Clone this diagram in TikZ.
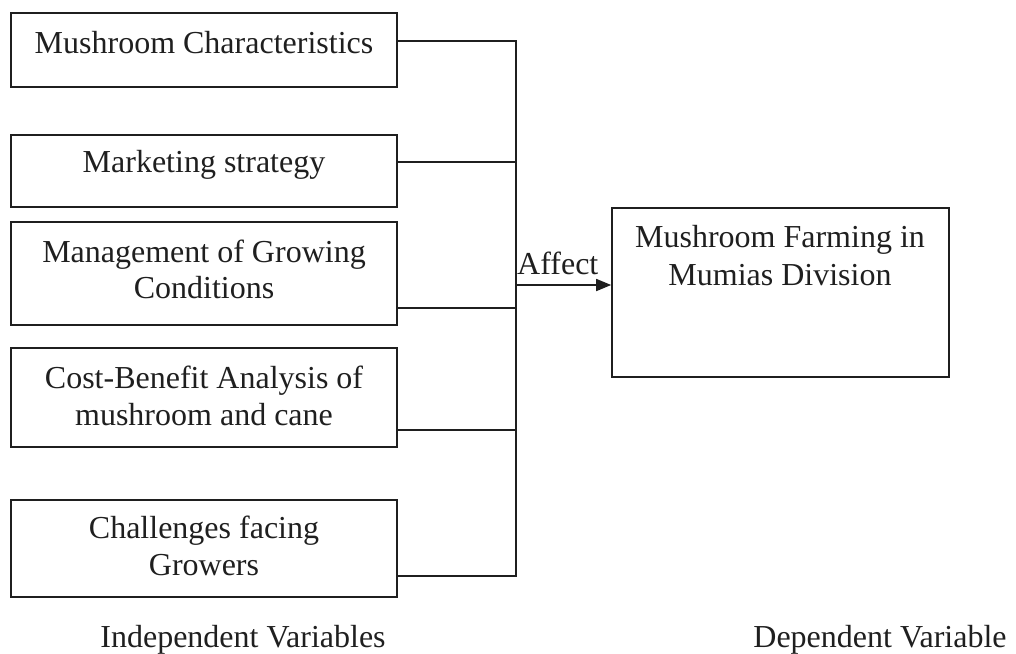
\documentclass[tikz,border=0pt]{standalone}
\usepackage{fontspec}
\setmainfont{Liberation Serif}
\usetikzlibrary{arrows.meta}
\begin{document}
\begin{tikzpicture}[x=1pt,y=-1pt,
  box/.style={draw=black!88,line width=1.6pt,rectangle,inner sep=0pt},
  txt/.style={anchor=base,inner sep=0pt,text=black!88,font=\fontsize{32}{36}\selectfont},
  conn/.style={draw=black!88,line width=1.6pt},
  arr/.style={conn,-{Triangle[length=15pt,width=12pt]}}]
\useasboundingbox (0,0) rectangle (1016,653);
% boxes
\node[box,minimum width=386pt,minimum height=74pt]  (b1) at (204,50) {};
\node[box,minimum width=386pt,minimum height=72pt]  (b2) at (204,171) {};
\node[box,minimum width=386pt,minimum height=103pt] (b3) at (204,273.5) {};
\node[box,minimum width=386pt,minimum height=99pt]  (b4) at (204,397.5) {};
\node[box,minimum width=386pt,minimum height=97pt]  (b5) at (204,548.5) {};
\node[box,minimum width=337pt,minimum height=169pt] (dep) at (780.5,292.5) {};
% texts
\node[txt] (t1)  at (204,53)  {Mushroom Characteristics};
\node[txt] (t2)  at (204,172) {Marketing strategy};
\node[txt] (t3a) at (204,262) {Management of Growing};
\node[txt] (t3b) at (204,298) {Conditions};
\node[txt] (t4a) at (204,388) {Cost-Benefit Analysis of};
\node[txt] (t4b) at (204,425) {mushroom and cane};
\node[txt] (t5a) at (204,538) {Challenges facing};
\node[txt] (t5b) at (204,575) {Growers};
\node[txt] (d1)  at (780,247) {Mushroom Farming in};
\node[txt] (d2)  at (780,285) {Mumias Division};
\node[txt,anchor=base west] (aff) at (517,274) {Affect};
\node[txt] (iv) at (243,647) {Independent Variables};
\node[txt] (dv) at (880,647) {Dependent Variable};
% bus junctions
\coordinate (j1) at (516,41);
\coordinate (j2) at (516,162);
\coordinate (ja) at (516,285);
\coordinate (j3) at (516,308);
\coordinate (j4) at (516,430);
\coordinate (j5) at (516,576);
% connectors
\draw[conn] (b1.east |- j1) -- (j1) -- (j5) -- (b5.east |- j5);
\draw[conn] (b2.east |- j2) -- (j2);
\draw[conn] (b3.east |- j3) -- (j3);
\draw[conn] (b4.east |- j4) -- (j4);
\draw[arr] (ja) -- (dep.west |- ja);
\end{tikzpicture}
\end{document}
